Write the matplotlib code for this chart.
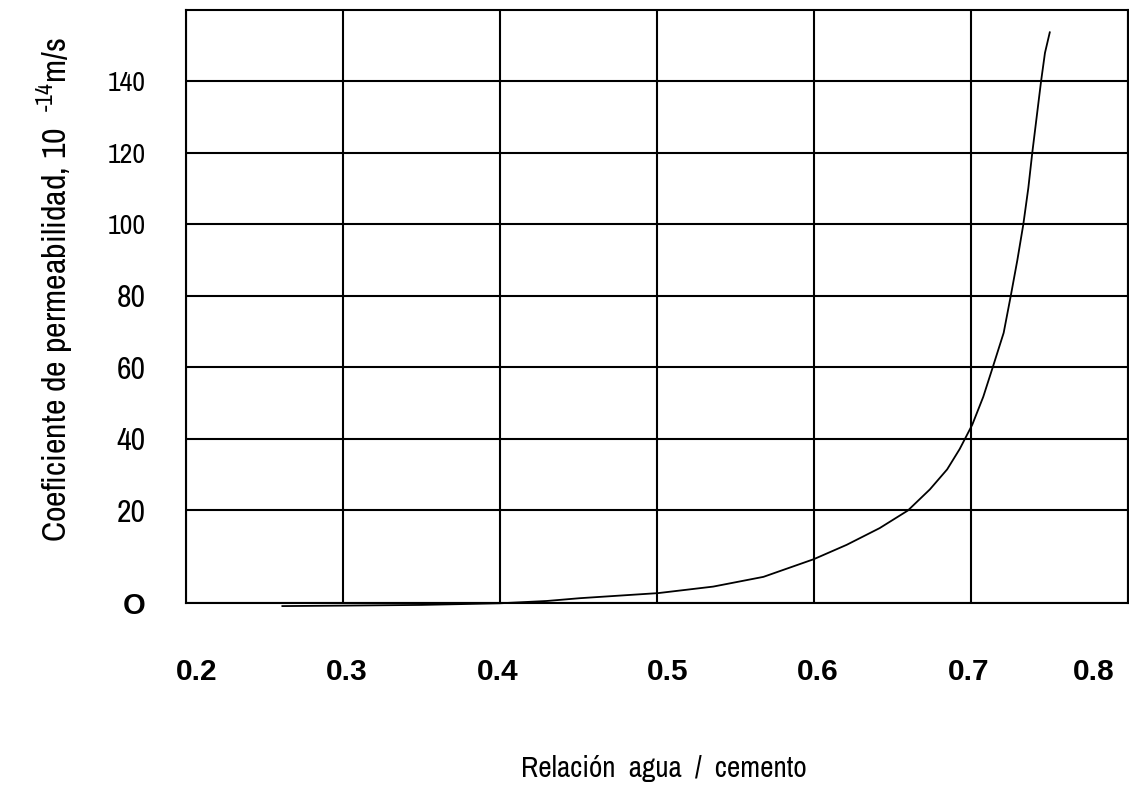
import numpy as np
import matplotlib
matplotlib.use("Agg")
import matplotlib.pyplot as plt
from matplotlib import font_manager as fm

# ---- data ----
wc_ratio = [0.261, 0.300, 0.350, 0.400, 0.430, 0.451, 0.501, 0.536, 0.568,
            0.600, 0.621, 0.642, 0.660, 0.674, 0.685, 0.693, 0.701, 0.708,
            0.714, 0.721, 0.7255, 0.7297, 0.7335, 0.7367, 0.7392, 0.7420,
            0.7448, 0.7473, 0.7505]
permeability = [-0.6, -0.5, -0.35, 0.0, 0.5, 1.1, 2.2, 3.6, 5.7,
                9.5, 12.6, 16.2, 20.0, 25.9, 31.5, 37.2, 44.0, 51.8,
                60.0, 69.7, 80.0, 90.0, 100.0, 110.2, 120.0, 130.0,
                140.0, 148.0, 154.0]

x_ticks = [0.2, 0.3, 0.4, 0.5, 0.6, 0.7, 0.8]
x_ticklabels = ["0.2", "0.3", "0.4", "0.5", "0.6", "0.7", "0.8"]
y_ticks = [0, 20, 40, 60, 80, 100, 120, 140]
y_ticklabels = ["O", "20", "40", "60", "80", "100", "120", "140"]

xlabel = "Relación  agua  /  cemento"
ylabel = "Coeficiente de permeabilidad, 10  $^{\\mathregular{\u201014}}$m/s"

# ---- fonts ----
names = {f.name for f in fm.fontManager.ttflist}
NARROW = "Archivo Narrow" if "Archivo Narrow" in names else "Liberation Sans"
plt.rcParams["font.family"] = [NARROW, "Liberation Sans", "DejaVu Sans"]
plt.rcParams["font.weight"] = 500
plt.rcParams["mathtext.fontset"] = "custom"
plt.rcParams["mathtext.rm"] = NARROW + ":medium"

# piecewise-linear y scale (bottom band 0-20 is taller in the original)
K = 1.298
def fwd(v):
    v = np.asarray(v, dtype=float)
    return np.where(v < 20, v * K, v + 20 * (K - 1))
def inv(u):
    u = np.asarray(u, dtype=float)
    return np.where(u < 20 * K, u / K, u - 20 * (K - 1))

fig = plt.figure(figsize=(11.29, 7.87), dpi=100)
ax = fig.add_axes([185.7 / 1129, (787 - 603.3) / 787, 942 / 1129, 593.3 / 787])
ax.set_yscale("function", functions=(fwd, inv))
ax.set_xlim(0.2, 0.8)
ax.set_ylim(0, 160)

ax.plot(wc_ratio, permeability, color="black", lw=1.3, clip_on=False, zorder=3,
        solid_capstyle="butt", solid_joinstyle="round")

ax.set_xticks(x_ticks)
ax.set_xticklabels([])
ax.set_yticks(y_ticks)
ax.set_yticklabels(y_ticklabels)
ax.tick_params(axis="both", length=0)
ax.tick_params(axis="y", pad=29)
ax.grid(True, color="black", lw=1.5)
for s in ax.spines.values():
    s.set_linewidth(1.5)
    s.set_color("black")

for lbl in ax.get_yticklabels():
    t = lbl.get_text()
    if t == "O":
        lbl.set_family("Liberation Sans")
        lbl.set_fontweight("bold")
        lbl.set_fontsize(21)
    elif len(t) == 3:
        lbl.set_fontsize(20)
    else:
        lbl.set_fontsize(23)

# x tick labels (hand-lettered positions in the original are slightly off the grid)
dx_px = [11, 4, -2, 11, 4, -2, -13]
for i, (xv, lab) in enumerate(zip(x_ticks, x_ticklabels)):
    ha = "right" if i == len(x_ticks) - 1 else "center"
    ax.annotate(lab, xy=(xv, 0), xycoords=ax.get_xaxis_transform(),
                xytext=(dx_px[i] * 0.72, -55.2), textcoords="offset points",
                ha=ha, va="baseline", fontsize=21.5, fontweight="bold",
                family="Liberation Sans")

fig.text(664 / 1129, 1 - 768 / 787, xlabel, ha="center", va="center", fontsize=21)
fig.text(55 / 1129, 1 - 290 / 787, ylabel, ha="center", va="center", rotation=90, fontsize=24.5)

fig.savefig("out.png", dpi=100)
